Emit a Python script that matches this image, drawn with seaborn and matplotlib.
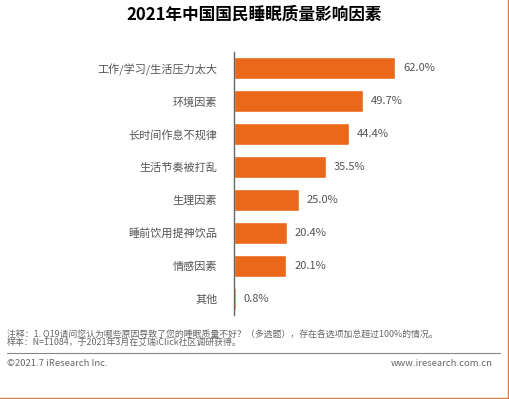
import numpy as np
import pandas as pd
import seaborn as sns
import matplotlib
matplotlib.use("Agg")
from matplotlib import pyplot as plt
from matplotlib.lines import Line2D

# data
factors = ['工作/学习/生活压力太大', '环境因素', '长时间作息不规律', '生活节奏被打乱',
           '生理因素', '睡前饮用提神饮品', '情感因素', '其他']
shares = [62.0, 49.7, 44.4, 35.5, 25.0, 20.4, 20.1, 0.8]

title = '2021年中国国民睡眠质量影响因素'
note_1 = '注释：1. Q19请问您认为哪些原因导致了您的睡眠质量不好？（多选题），存在各选项加总超过100%的情况。'
note_2 = '样本：N=11084，于2021年3月在艾瑞iClick社区调研获得。'
copy_left = '©2021.7 iResearch Inc.'
copy_right = 'www.iresearch.com.cn'

bar_color = '#EB6719'
text_gray = '#555555'

sns.set_theme(style='white')
plt.rcParams['font.family'] = ['Noto Sans CJK SC', 'DejaVu Sans']

df = pd.DataFrame({'factor': factors, 'share': shares})

fig = plt.figure(figsize=(5.09, 3.99), dpi=100)
ax = fig.add_axes([234 / 509, 1 - 315 / 399, 260 / 509, 263 / 399])

sns.barplot(data=df, x='share', y='factor', color=bar_color, width=0.67,
            saturation=1, ax=ax)

ax.set_xlim(0, 100)
ax.set_xlabel('')
ax.set_ylabel('')
ax.set_xticks([])
ax.tick_params(axis='y', length=0, pad=12, labelsize=8, labelcolor=text_gray)
for s in ['top', 'right', 'bottom']:
    ax.spines[s].set_visible(False)
ax.spines['left'].set_color('#666666')
ax.spines['left'].set_linewidth(1.0)

for i, v in enumerate(shares):
    ax.text(v + 3, i, f'{v:.1f}%', va='center', ha='left', fontsize=8,
            color=text_gray)

fig.text(254 / 509, 1 - 15 / 399, title, ha='center', va='center',
         fontsize=12, fontweight='bold', color='black')

fig.text(7 / 509, 1 - 334 / 399, note_1, ha='left', va='center', fontsize=6.4,
         color='#666666')
fig.text(7 / 509, 1 - 343 / 399, note_2, ha='left', va='center', fontsize=6.4,
         color='#666666')
fig.add_artist(Line2D([7 / 509, 500 / 509], [1 - 353 / 399, 1 - 353 / 399],
                      color='#888888', linewidth=0.8))
fig.text(7 / 509, 1 - 364 / 399, copy_left, ha='left', va='center', fontsize=6.8,
         color='#666666')
fig.text(493 / 509, 1 - 364 / 399, copy_right, ha='right', va='center',
         fontsize=6.8, color='#666666')

# orange frame edges (right and bottom)
fig.add_artist(Line2D([507.5 / 509, 507.5 / 509], [0, 1], color='#E07A3A', linewidth=1.0))
fig.add_artist(Line2D([0, 1], [1.5 / 399, 1.5 / 399], color='#E07A3A', linewidth=1.0))

fig.savefig('out.png', dpi=100)
